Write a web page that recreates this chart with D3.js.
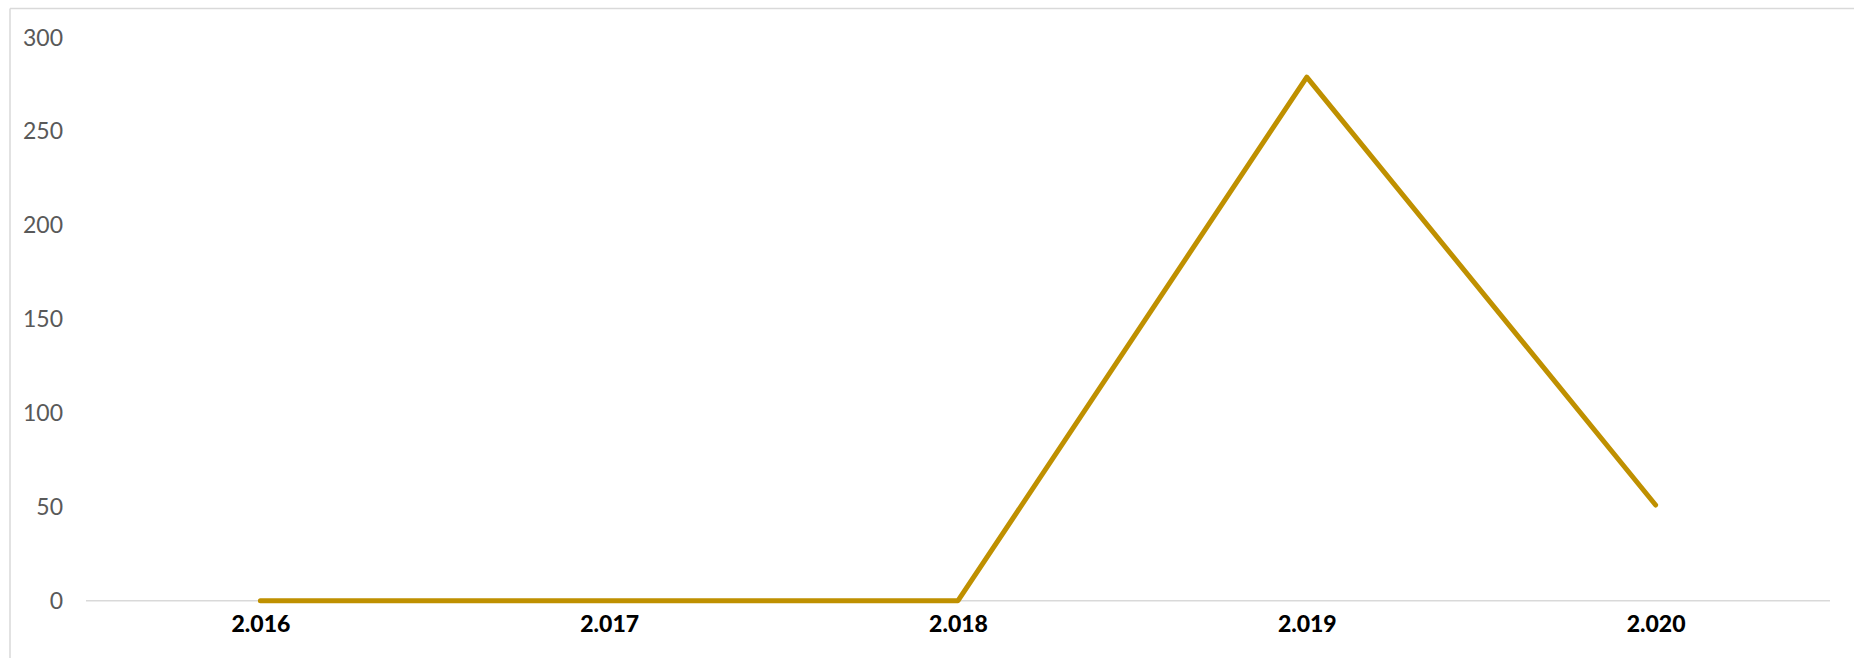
<!DOCTYPE html>
<html>
<head>
<meta charset="utf-8">
<script src="https://cdn.jsdelivr.net/npm/d3@7"></script>
<style>
  body { margin: 0; background: #fff; }
  svg { display: block; }
</style>
</head>
<body>
<div id="chart"></div>
<script>
// data
var years = ["2.016", "2.017", "2.018", "2.019", "2.020"];
var values = [0, 0, 0, 279, 51];
var yTicks = [0, 50, 100, 150, 200, 250, 300];

var width = 1854,
  height = 658;

var svg = d3
  .select("#chart")
  .append("svg")
  .attr("width", width)
  .attr("height", height);

// chart frame (only top and left edges show)
svg
  .append("line")
  .attr("x1", 10).attr("x2", width)
  .attr("y1", 8.5).attr("y2", 8.5)
  .attr("stroke", "#d9d9d9")
  .attr("stroke-width", 1.5);
svg
  .append("line")
  .attr("x1", 10).attr("x2", 10)
  .attr("y1", 8.5).attr("y2", height)
  .attr("stroke", "#d9d9d9")
  .attr("stroke-width", 1.5);

var x = d3.scalePoint().domain(years).range([86, 1830]).padding(0.5);
var y = d3.scaleLinear().domain([0, 300]).range([600.7, 37.7]);

// y axis labels
var yAxis = svg
  .append("g")
  .attr("transform", "translate(86,0)")
  .call(d3.axisLeft(y).tickValues(yTicks).tickSize(0).tickPadding(23));
yAxis.select(".domain").remove();
yAxis
  .selectAll("text")
  .attr("fill", "#595959")
  .style("font-family", "Lato, 'Open Sans', sans-serif")
  .style("font-size", "23px");

// zero line
svg
  .append("line")
  .attr("x1", 86).attr("x2", 1830)
  .attr("y1", y(0)).attr("y2", y(0))
  .attr("stroke", "#d9d9d9")
  .attr("stroke-width", 1.5);

// x axis labels
var xAxis = svg
  .append("g")
  .attr("transform", "translate(0," + y(0) + ")")
  .call(d3.axisBottom(x).tickSize(0).tickPadding(15));
xAxis.select(".domain").remove();
xAxis
  .selectAll("text")
  .attr("fill", "#000")
  .style("font-family", "Lato, 'Open Sans', sans-serif")
  .style("font-weight", "900")
  .style("font-size", "23px");

var line = d3
  .line()
  .x(function (d, i) {
    return x(years[i]);
  })
  .y(function (d) {
    return y(d);
  });

svg
  .append("path")
  .datum(values)
  .attr("d", line)
  .attr("fill", "none")
  .attr("stroke", "#bf9000")
  .attr("stroke-width", 5)
  .attr("stroke-linecap", "round")
  .attr("stroke-linejoin", "round");
</script>
</body>
</html>
